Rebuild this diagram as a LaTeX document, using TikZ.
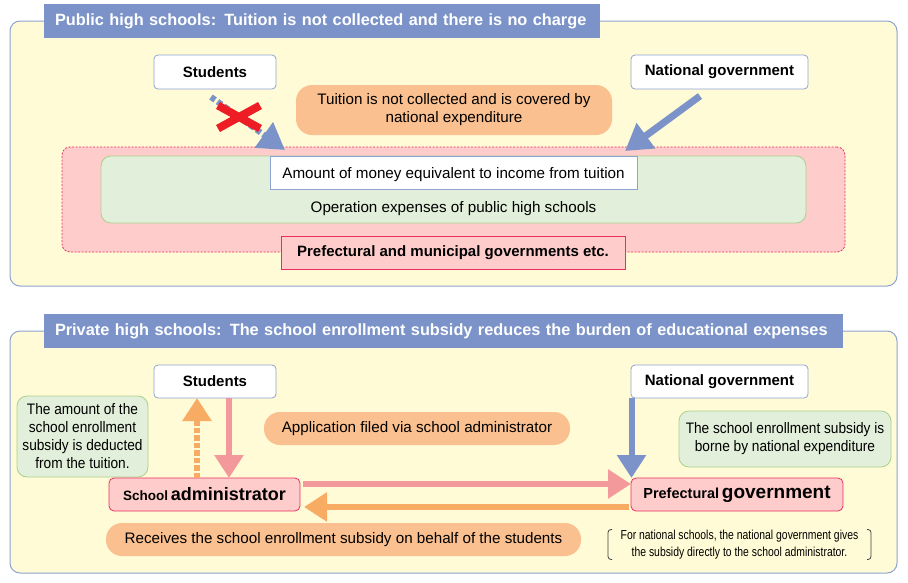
\documentclass[tikz,border=0pt]{standalone}
\usepackage{fontspec}
\setmainfont{Liberation Sans}
\newfontfamily\narrowfont[FakeStretch=0.8]{Liberation Sans}
\newfontfamily\notefont[FakeStretch=0.9]{Liberation Sans}
\usetikzlibrary{arrows.meta,shapes.misc}
\definecolor{panelfill}{HTML}{FFFBD6}
\definecolor{panelline}{HTML}{8EA3D1}
\definecolor{titleblue}{HTML}{7B93C9}
\definecolor{orangefill}{HTML}{FAC08F}
\definecolor{orangearrow}{HTML}{F8AC63}
\definecolor{pinkarrow}{HTML}{F4999B}
\definecolor{pinkfill}{HTML}{FFCCCC}
\definecolor{crimson}{HTML}{E8305F}
\definecolor{greenfill}{HTML}{E2EFDA}
\definecolor{greenline}{HTML}{A9D18E}
\definecolor{bluearrowc}{HTML}{7B93C9}
\definecolor{redx}{HTML}{EE1C25}
\definecolor{bracketc}{HTML}{404040}
\begin{document}
\begin{tikzpicture}[x=1pt,y=-1pt,
  every node/.style={inner sep=0pt, outer sep=0pt},
  panel/.style={draw=panelline, line width=1pt, fill=panelfill, rounded corners=10pt},
  titlebar/.style={fill=titleblue, text=white, font=\bfseries\fontsize{16.3}{19}\selectfont, align=left, minimum height=34pt},
  whitebox/.style={draw=panelline, fill=white, rounded corners=4pt, line width=0.8pt, minimum height=34pt, font=\bfseries\fontsize{15}{18}\selectfont},
  body/.style={font=\fontsize{15.2}{18}\selectfont, align=center},
  orangebox/.style={fill=orangefill, rounded corners=16pt, body},
  greennote/.style={draw=greenline, fill=greenfill, rounded corners=10pt, line width=0.8pt, align=center, font=\notefont\fontsize{15.2}{18}\selectfont},
  pinkbox/.style={draw=crimson, fill=pinkfill, line width=0.8pt, minimum height=33pt, font=\bfseries},
  bigarrow/.style={line width=6pt, -{Triangle[width=28pt,length=23pt]}},
  toparrow/.style={line width=7pt, -{Triangle[width=30pt,length=26pt]}},
  bracket/.style={draw=bracketc, line width=0.8pt, rounded corners=3pt}
]
\useasboundingbox (0,0) rectangle (908,582);

% ---------- top panel ----------
\node[panel, minimum width=887pt, minimum height=265pt] (p1) at (453.5,153.5) {};
\node[titlebar, minimum width=556pt, text width=534pt] (t1) at (322,21) {Public high schools: Tuition is not collected and there is no charge};

\node[whitebox, minimum width=122pt] (st1) at (215,72) {Students};
\node[whitebox, minimum width=177pt] (ng1) at (719.5,72) {National government};
\node[orangebox, minimum width=316pt, minimum height=50pt] (or1) at (454,110) {Tuition is not collected and is covered by\\national expenditure};

\node[draw=crimson, dashed, dash pattern=on 2pt off 1.5pt, line width=0.8pt, fill=pinkfill, rounded corners=8pt, minimum width=783pt, minimum height=105pt] (area) at (453.5,199.5) {};
\node[draw=greenline, fill=greenfill, line width=0.8pt, rounded corners=10pt, minimum width=705pt, minimum height=67pt] (gr1) at (453.5,189.5) {};
\node[draw=panelline, fill=white, line width=0.8pt, minimum width=367pt, minimum height=33pt, text depth=0pt, body] (wb) at (453.5,172.5) {Amount of money equivalent to income from tuition};
\node[body] (ops) at (453.5,209) {Operation expenses of public high schools};
\node[pinkbox, minimum width=344pt, font=\bfseries\fontsize{15}{18}\selectfont] (pm) at (453,252.5) {Prefectural and municipal governments etc.};

\draw[toparrow, draw=bluearrowc, dash pattern=on 5pt off 3pt, line width=6pt] ([shift={(-4pt,-8pt)}]st1.south) -- ([shift={(15pt,6pt)}]wb.north west);
\draw[toparrow, draw=bluearrowc] ([shift={(-19.5pt,-7pt)}]ng1.south) -- ([shift={(-12pt,5pt)}]wb.north east);
\node[cross out, draw=redx, line width=8pt, minimum width=42pt, minimum height=23pt] (xm) at (239,117) {};

% ---------- bottom panel ----------
\node[panel, minimum width=887pt, minimum height=242pt] (p2) at (453.5,452) {};
\node[titlebar, minimum width=799pt, text width=777pt] (t2) at (443.5,331) {Private high schools: The school enrollment subsidy reduces the burden of educational expenses};

\node[whitebox, minimum width=122pt, minimum height=33pt] (st2) at (215,381.5) {Students};
\node[whitebox, minimum width=177pt, minimum height=33pt] (ng2) at (719.5,381.5) {National government};

\node[greennote, minimum width=131pt, minimum height=81pt] (gl) at (82.5,436.5) {The amount of the\\school enrollment\\subsidy is deducted\\from the tuition.};
\node[orangebox, minimum width=306pt, minimum height=33pt] (app) at (417,428.5) {Application filed via school administrator};
\node[greennote, minimum width=212pt, minimum height=56pt] (gr2) at (785,439) {The school enrollment subsidy is\\borne by national expenditure};

\node[pinkbox, rounded corners=5pt, minimum width=191pt] (adm) at (204.5,494.5) {{\fontsize{13.5}{16}\selectfont School} {\fontsize{18}{20}\selectfont administrator}};
\node[pinkbox, rounded corners=5pt, minimum width=212pt] (pg) at (737,494.5) {{\fontsize{14.5}{17}\selectfont Prefectural} {\fontsize{19}{20}\selectfont government}};

\node[orangebox, minimum width=475pt, minimum height=33pt] (rcv) at (343.5,539.5) {Receives the school enrollment subsidy on behalf of the students};

\node[minimum width=263pt, minimum height=30pt, align=center, font=\narrowfont\fontsize{13}{17}\selectfont] (bn) at (739.5,544.5) {For national schools, the national government gives\\the subsidy directly to the school administrator.};
\draw[bracket] ([xshift=4pt]bn.north west) -- (bn.north west) -- (bn.south west) -- ([xshift=4pt]bn.south west);
\draw[bracket] ([xshift=-4pt]bn.north east) -- (bn.north east) -- (bn.south east) -- ([xshift=-4pt]bn.south east);

% arrows
\draw[bigarrow, draw=pinkarrow] ([xshift=14pt]st2.south) -- ([xshift=14pt]st2.south |- adm.north);
\draw[bigarrow, draw=orangearrow, dash pattern=on 5.5pt off 2pt] ([xshift=-7.5pt]adm.north) -- ([xshift=-7.5pt]adm.north |- st2.south);
\draw[bigarrow, draw=pinkarrow] ([shift={(3pt,10.5pt)}]adm.east) -- ([yshift=10.5pt]adm.east -| pg.west);
\draw[bigarrow, draw=orangearrow] ([shift={(-2pt,-12.5pt)}]pg.west) -- ([shift={(4pt,-12.5pt)}]pg.west -| adm.east);
\draw[bigarrow, draw=bluearrowc] ([xshift=-88pt]ng2.south) -- ([xshift=-88pt]ng2.south |- pg.north);
\end{tikzpicture}
\end{document}
